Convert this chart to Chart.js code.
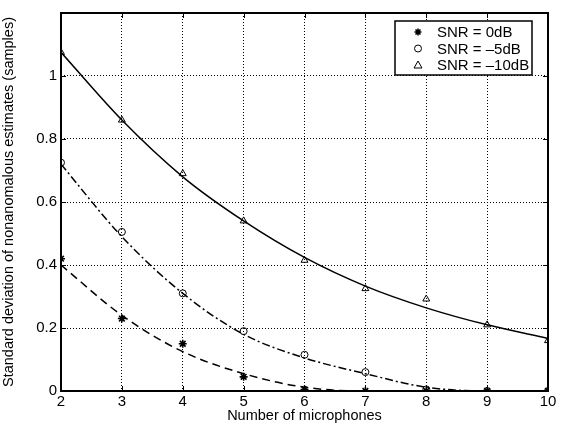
<!DOCTYPE html>
<html>
<head>
<meta charset="utf-8">
<script src="https://cdn.jsdelivr.net/npm/chart.js@4/dist/chart.umd.min.js"></script>
<style>
  html, body { margin: 0; padding: 0; background: #fff; }
  #chart { display: block; }
</style>
</head>
<body>
<canvas id="chart" width="562" height="425"></canvas>
<script>
// microphones on the x axis
const mics = [2, 3, 4, 5, 6, 7, 8, 9, 10];

// measured points (markers)
const snr0 = [0.42, 0.23, 0.15, 0.045, 0.005, 0, 0, 0, 0];
const snr5 = [0.725, 0.505, 0.31, 0.19, 0.115, 0.06, 0.005, 0, 0];
const snr10 = [1.075, 0.86, 0.69, 0.54, 0.415, 0.325, 0.292, 0.21, 0.16];

// fitted curves at each microphone count
const fit0 = [0.40, 0.24, 0.125, 0.055, 0.012, 0, 0, 0, 0];
const fit5 = [0.72, 0.49, 0.31, 0.18, 0.105, 0.055, 0.012, 0, 0];
const fit10 = [1.075, 0.86, 0.68, 0.54, 0.424, 0.333, 0.264, 0.21, 0.167];

const yTicks = [0, 0.2, 0.4, 0.6, 0.8, 1];
const legendLabels = ["SNR = 0dB", "SNR = \u20135dB", "SNR = \u201310dB"];

const pts = vals => mics.map((x, i) => ({ x: x, y: vals[i] }));
const FONT = "'Liberation Sans', Arial, Helvetica, sans-serif";

function curve(vals, dash) {
  return {
    data: pts(vals),
    borderColor: "#000",
    borderWidth: 1.5,
    borderDash: dash,
    pointRadius: 0,
    cubicInterpolationMode: "monotone",
    fill: false,
  };
}

function markers(vals, style, radius) {
  return {
    data: pts(vals),
    showLine: false,
    pointStyle: style,
    pointRadius: radius,
    pointBorderColor: "#000",
    pointBackgroundColor: "rgba(0,0,0,0)",
    pointBorderWidth: style === "star" ? 1.6 : 1,
  };
}

// frame, inward tick marks and the boxed legend
const framePlugin = {
  id: "frame",
  afterDraw(chart) {
    const { ctx, chartArea: a, scales } = chart;
    ctx.save();
    ctx.strokeStyle = "#000";
    ctx.lineWidth = 1;
    mics.forEach(v => {
      const px = Math.round(scales.x.getPixelForValue(v)) + 0.5;
      ctx.beginPath();
      ctx.moveTo(px, a.bottom); ctx.lineTo(px, a.bottom - 5);
      ctx.moveTo(px, a.top); ctx.lineTo(px, a.top + 5);
      ctx.stroke();
    });
    yTicks.forEach(v => {
      const py = Math.round(scales.y.getPixelForValue(v)) + 0.5;
      ctx.beginPath();
      ctx.moveTo(a.left, py); ctx.lineTo(a.left + 5, py);
      ctx.moveTo(a.right, py); ctx.lineTo(a.right - 5, py);
      ctx.stroke();
    });
    ctx.lineWidth = 2;
    ctx.strokeRect(a.left, a.top, a.right - a.left, a.bottom - a.top);

    // legend
    const bx = a.right - 153, by = a.top + 8, bw = 137, bh = 54;
    ctx.fillStyle = "#fff";
    ctx.fillRect(bx, by, bw, bh);
    ctx.lineWidth = 1.5;
    ctx.strokeRect(bx, by, bw, bh);
    ctx.font = "15px " + FONT;
    ctx.fillStyle = "#000";
    ctx.textBaseline = "middle";
    const mx = bx + 23;
    legendLabels.forEach((t, i) => {
      const ry = by + 11 + i * 16.5;
      ctx.lineWidth = 1;
      ctx.beginPath();
      if (i === 0) {
        ctx.lineWidth = 1.6;
        for (let k = 0; k < 4; k++) {
          const ang = k * Math.PI / 4;
          ctx.moveTo(mx - 3.5 * Math.cos(ang), ry - 3.5 * Math.sin(ang));
          ctx.lineTo(mx + 3.5 * Math.cos(ang), ry + 3.5 * Math.sin(ang));
        }
      } else if (i === 1) {
        ctx.arc(mx, ry, 3.5, 0, Math.PI * 2);
      } else {
        ctx.moveTo(mx, ry - 4); ctx.lineTo(mx + 4, ry + 3); ctx.lineTo(mx - 4, ry + 3); ctx.closePath();
      }
      ctx.stroke();
      ctx.fillText(t, bx + 42, ry + 1);
    });
    ctx.restore();
  },
};

new Chart(document.getElementById("chart"), {
  type: "line",
  data: {
    datasets: [
      curve(fit10, []),
      curve(fit5, [8, 3, 2, 3]),
      curve(fit0, [8, 5]),
      markers(snr0, "star", 4),
      markers(snr5, "circle", 3.5),
      markers(snr10, "triangle", 4),
    ],
  },
  options: {
    responsive: false,
    animation: false,
    layout: { padding: { left: 0, right: 14, top: 10, bottom: 0 } },
    plugins: { legend: { display: false }, tooltip: { enabled: false } },
    scales: {
      x: {
        type: "linear",
        min: 2,
        max: 10,
        afterFit: s => { s.height = 34; },
        ticks: { stepSize: 1, color: "#000", padding: 2, font: { family: FONT, size: 15 } },
        grid: { color: "#000", lineWidth: 1, drawTicks: false },
        border: { display: false, dash: [1, 2] },
        title: { display: true, text: "Number of microphones", color: "#000", padding: 0, font: { family: FONT, size: 14.5 } },
      },
      y: {
        min: 0,
        max: 1.2,
        afterFit: s => { s.width = 61; },
        afterBuildTicks: s => { s.ticks = yTicks.map(v => ({ value: v })); },
        ticks: { color: "#000", padding: 4, font: { family: FONT, size: 15 }, callback: v => String(Math.round(v * 10) / 10) },
        grid: { color: "#000", lineWidth: 1, drawTicks: false },
        border: { display: false, dash: [1, 2] },
        title: { display: true, text: "Standard deviation of nonanomalous estimates (samples)", color: "#000", padding: 0, font: { family: FONT, size: 14.5 } },
      },
    },
  },
  plugins: [framePlugin, {
    id: "bg",
    beforeDraw(c) { const x = c.ctx; x.save(); x.fillStyle = "#fff"; x.fillRect(0, 0, c.width, c.height); x.restore(); },
  }],
});
</script>
</body>
</html>
